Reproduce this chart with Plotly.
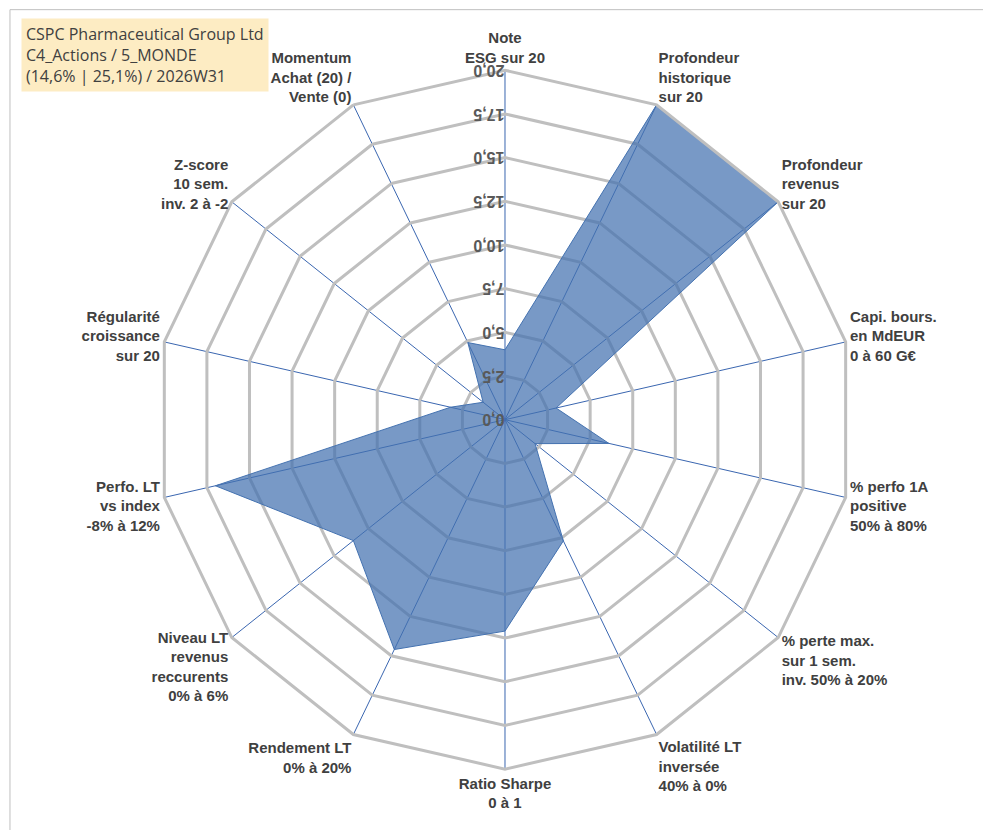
import plotly.graph_objects as go

categories = [
    "Note<br>ESG sur 20",
    "Profondeur<br>historique<br>sur 20",
    "Profondeur<br>revenus<br>sur 20",
    "Capi. bours.<br>en MdEUR<br>0 à 60 G€",
    "% perfo 1A<br>positive<br>50% à 80%",
    "% perte max.<br>sur 1 sem.<br>inv. 50% à 20%",
    "Volatilité LT<br>inversée<br>40% à 0%",
    "Ratio Sharpe<br>0 à 1",
    "Rendement LT<br>0% à 20%",
    "Niveau LT<br>revenus<br>reccurents<br>0% à 6%",
    "Perfo. LT<br>vs index<br>-8% à 12%",
    "Régularité<br>croissance<br>sur 20",
    "Z-score<br>10 sem.<br>inv. 2 à -2",
    "Momentum<br>Achat (20) /<br>Vente (0)",
]
values = [4.0, 20.0, 20.0, 3.0, 6.1, 2.2, 7.7, 12.1, 14.6, 11.1, 17.0, 3.2, 1.6, 4.9]
tick_vals = [0, 2.5, 5, 7.5, 10, 12.5, 15, 17.5, 20]
tick_text = ["0,0", "2,5", "5,0", "7,5", "10,0", "12,5", "15,0", "17,5", "20,0"]

labels = ["<b>" + "</b><br><b>".join(c.split("<br>")) + "</b>" for c in categories]

fig = go.Figure()
fig.add_trace(go.Scatterpolar(
    r=values + values[:1], theta=labels + labels[:1],
    fill="toself", mode="lines",
    fillcolor="rgba(68,114,176,0.72)",
    line=dict(color="#4472b0", width=1),
    hoverinfo="skip",
))

fig.update_layout(
    width=991, height=830,
    paper_bgcolor="white",
    showlegend=False,
    margin=dict(l=0, r=0, t=0, b=0),
    font=dict(family="Liberation Sans, Arial", size=15, color="#404040"),
    polar=dict(
        domain=dict(x=[0.148, 0.855], y=[0.083, 0.925]),
        gridshape="linear",
        bgcolor="white",
        radialaxis=dict(
            range=[0, 20], tickvals=tick_vals, ticktext=["<b>" + t + "</b>" for t in tick_text],
            angle=90, tickangle=-90, side="counterclockwise",
            showline=False, ticks="",
            gridcolor="#bfbfbf", gridwidth=3,
            tickfont=dict(size=16, color="#595959", family="Liberation Sans, Arial"),
        ),
        angularaxis=dict(
            rotation=90, direction="clockwise",
            gridcolor="#3a66b0", gridwidth=1.2,
            linecolor="#bfbfbf", linewidth=3,
            tickfont=dict(size=15, color="#404040", family="Liberation Sans, Arial"),
            ticks="",
        ),
    ),
    annotations=[dict(
        text="CSPC Pharmaceutical Group Ltd<br>C4_Actions / 5_MONDE<br>(14,6% | 25,1%) / 2026W31",
        x=0.013, y=0.988, xref="paper", yref="paper",
        xanchor="left", yanchor="top", align="left", showarrow=False,
        bgcolor="rgba(253,233,185,0.85)", borderpad=4,
        font=dict(family="Open Sans, Liberation Sans", size=16, color="#404040"),
    )],
    shapes=[dict(type="rect", xref="paper", yref="paper", x0=0.002, y0=0.002,
                 x1=0.998, y1=0.998, line=dict(color="#bfbfbf", width=1))],
)

fig.write_html("out.html")
